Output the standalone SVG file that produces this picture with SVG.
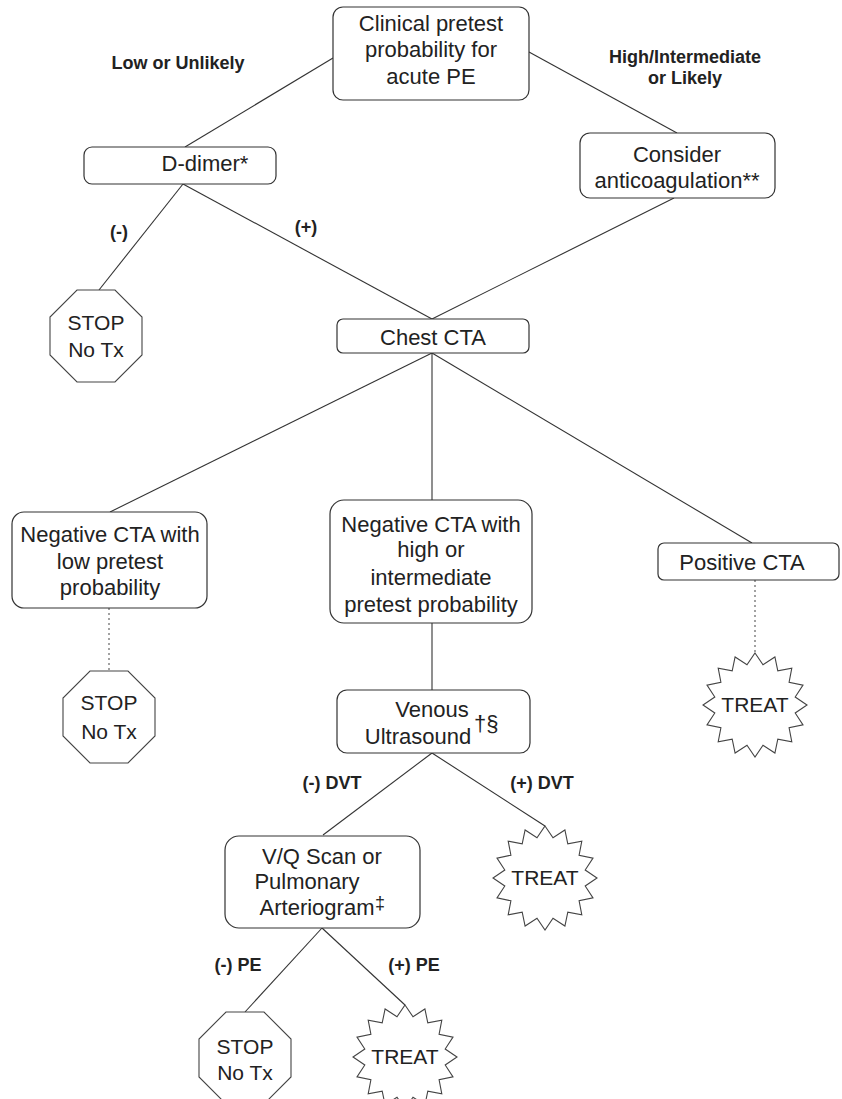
<svg xmlns="http://www.w3.org/2000/svg" width="842" height="1099" viewBox="0 0 842 1099">
<style>
.box{fill:#fff;stroke:#333;stroke-width:1.2}
.oct{fill:#fff;stroke:#444;stroke-width:1.1}
.burst{fill:#fff;stroke:#444;stroke-width:1.1}
.t{font-family:"Liberation Sans",Arial,sans-serif;font-size:22px;fill:#222;text-anchor:middle}
.s{font-size:21px}
.lb{font-family:"Liberation Sans",Arial,sans-serif;font-size:18px;font-weight:bold;fill:#222;text-anchor:middle}
.c{stroke:#333;stroke-width:1.1;fill:none}
.d{stroke:#555;stroke-width:1.1;fill:none;stroke-dasharray:2 3}
</style>
<defs>
<polygon id="burstShape" class="burst" points="0,-52 8,-40.2 19.9,-48 22.8,-34.1 36.8,-36.8 34.1,-22.8 48,-19.9 40.2,-8 52,0 40.2,8 48,19.9 34.1,22.8 36.8,36.8 22.8,34.1 19.9,48 8,40.2 0,52 -8,40.2 -19.9,48 -22.8,34.1 -36.8,36.8 -34.1,22.8 -48,19.9 -40.2,8 -52,0 -40.2,-8 -48,-19.9 -34.1,-22.8 -36.8,-36.8 -22.8,-34.1 -19.9,-48 -8,-40.2"/>
<polygon id="octShape" class="oct" points="-19,-46 19,-46 46,-19 46,19 19,46 -19,46 -46,19 -46,-19"/>
</defs>
<rect width="842" height="1099" fill="#fff"/>

<g id="connectors">
<line class="c" x1="333" y1="58" x2="185" y2="147"/>
<line class="c" x1="529" y1="52" x2="677" y2="133"/>
<line class="c" x1="183" y1="184" x2="99" y2="290"/>
<line class="c" x1="183" y1="184" x2="432" y2="319"/>
<line class="c" x1="674" y1="198" x2="432" y2="319"/>
<line class="c" x1="432" y1="353" x2="110" y2="512"/>
<line class="c" x1="432" y1="353" x2="432" y2="500"/>
<line class="c" x1="432" y1="353" x2="752" y2="543"/>
<line class="d" x1="109" y1="608" x2="109" y2="671"/>
<line class="d" x1="755" y1="580" x2="755" y2="653"/>
<line class="c" x1="432" y1="623" x2="432" y2="690"/>
<line class="c" x1="432" y1="753" x2="323" y2="835"/>
<line class="c" x1="432" y1="753" x2="545" y2="826"/>
<line class="c" x1="322" y1="928" x2="245" y2="1012"/>
<line class="c" x1="322" y1="928" x2="405" y2="1005"/>
</g>

<g id="edge-labels">
<text class="lb" x="178" y="69">Low or Unlikely</text>
<text class="lb" x="685" y="63">High/Intermediate</text>
<text class="lb" x="685" y="84">or Likely</text>
<text class="lb" x="119" y="238">(-)</text>
<text class="lb" x="306" y="233">(+)</text>
<text class="lb" x="332" y="789">(-) DVT</text>
<text class="lb" x="542" y="789">(+) DVT</text>
<text class="lb" x="238" y="971">(-) PE</text>
<text class="lb" x="414" y="971">(+) PE</text>
</g>

<g id="n-pretest">
<rect class="box" x="333" y="7" width="196" height="93" rx="10"/>
<text class="t" x="431" y="31">Clinical pretest</text>
<text class="t" x="431" y="57">probability for</text>
<text class="t" x="431" y="84">acute PE</text>
</g>

<g id="n-ddimer">
<rect class="box" x="84" y="147" width="192" height="37" rx="8"/>
<text class="t" x="205" y="171">D-dimer*</text>
</g>

<g id="n-anticoag">
<rect class="box" x="580" y="133" width="195" height="65" rx="10"/>
<text class="t" x="677" y="162">Consider</text>
<text class="t" x="677" y="188">anticoagulation**</text>
</g>

<g id="n-stop1">
<use href="#octShape" x="96" y="336"/>
<text class="t s" x="96" y="330">STOP</text>
<text class="t s" x="96" y="357">No Tx</text>
</g>

<g id="n-chestcta">
<rect class="box" x="337" y="319" width="192" height="34" rx="6"/>
<text class="t" x="433" y="345">Chest CTA</text>
</g>

<g id="n-neglow">
<rect class="box" x="12" y="512" width="195" height="96" rx="12"/>
<text class="t" x="110" y="542">Negative CTA with</text>
<text class="t" x="110" y="569">low pretest</text>
<text class="t" x="110" y="595">probability</text>
</g>

<g id="n-neghigh">
<rect class="box" x="330" y="500" width="202" height="123" rx="14"/>
<text class="t" x="431" y="532">Negative CTA with</text>
<text class="t" x="431" y="557">high or</text>
<text class="t" x="431" y="585">intermediate</text>
<text class="t" x="431" y="612">pretest probability</text>
</g>

<g id="n-poscta">
<rect class="box" x="658" y="543" width="181" height="37" rx="6"/>
<text class="t" x="742" y="570">Positive CTA</text>
</g>

<g id="n-stop2">
<use href="#octShape" x="109" y="717"/>
<text class="t s" x="109" y="710">STOP</text>
<text class="t s" x="109" y="739">No Tx</text>
</g>

<g id="n-treat1">
<use href="#burstShape" x="755" y="705"/>
<text class="t s" x="755" y="712">TREAT</text>
</g>

<g id="n-venous">
<rect class="box" x="337" y="690" width="193" height="63" rx="10"/>
<text class="t" x="432" y="717">Venous</text>
<text class="t" x="418" y="744">Ultrasound</text>
<text class="t" x="474" y="731" style="text-anchor:start">†§</text>
</g>

<g id="n-vq">
<rect class="box" x="225" y="836" width="195" height="92" rx="14"/>
<text class="t" x="322" y="864">V/Q Scan or</text>
<text class="t" x="307" y="889">Pulmonary</text>
<text class="t" x="317" y="915">Arteriogram</text>
<text class="t" x="375" y="909" style="text-anchor:start;font-size:18px">‡</text>
</g>

<g id="n-treat2">
<use href="#burstShape" x="545" y="878"/>
<text class="t s" x="545" y="885">TREAT</text>
</g>

<g id="n-stop3">
<use href="#octShape" x="245" y="1058"/>
<text class="t s" x="245" y="1054">STOP</text>
<text class="t s" x="245" y="1080">No Tx</text>
</g>

<g id="n-treat3">
<use href="#burstShape" x="405" y="1057"/>
<text class="t s" x="405" y="1064">TREAT</text>
</g>
</svg>
